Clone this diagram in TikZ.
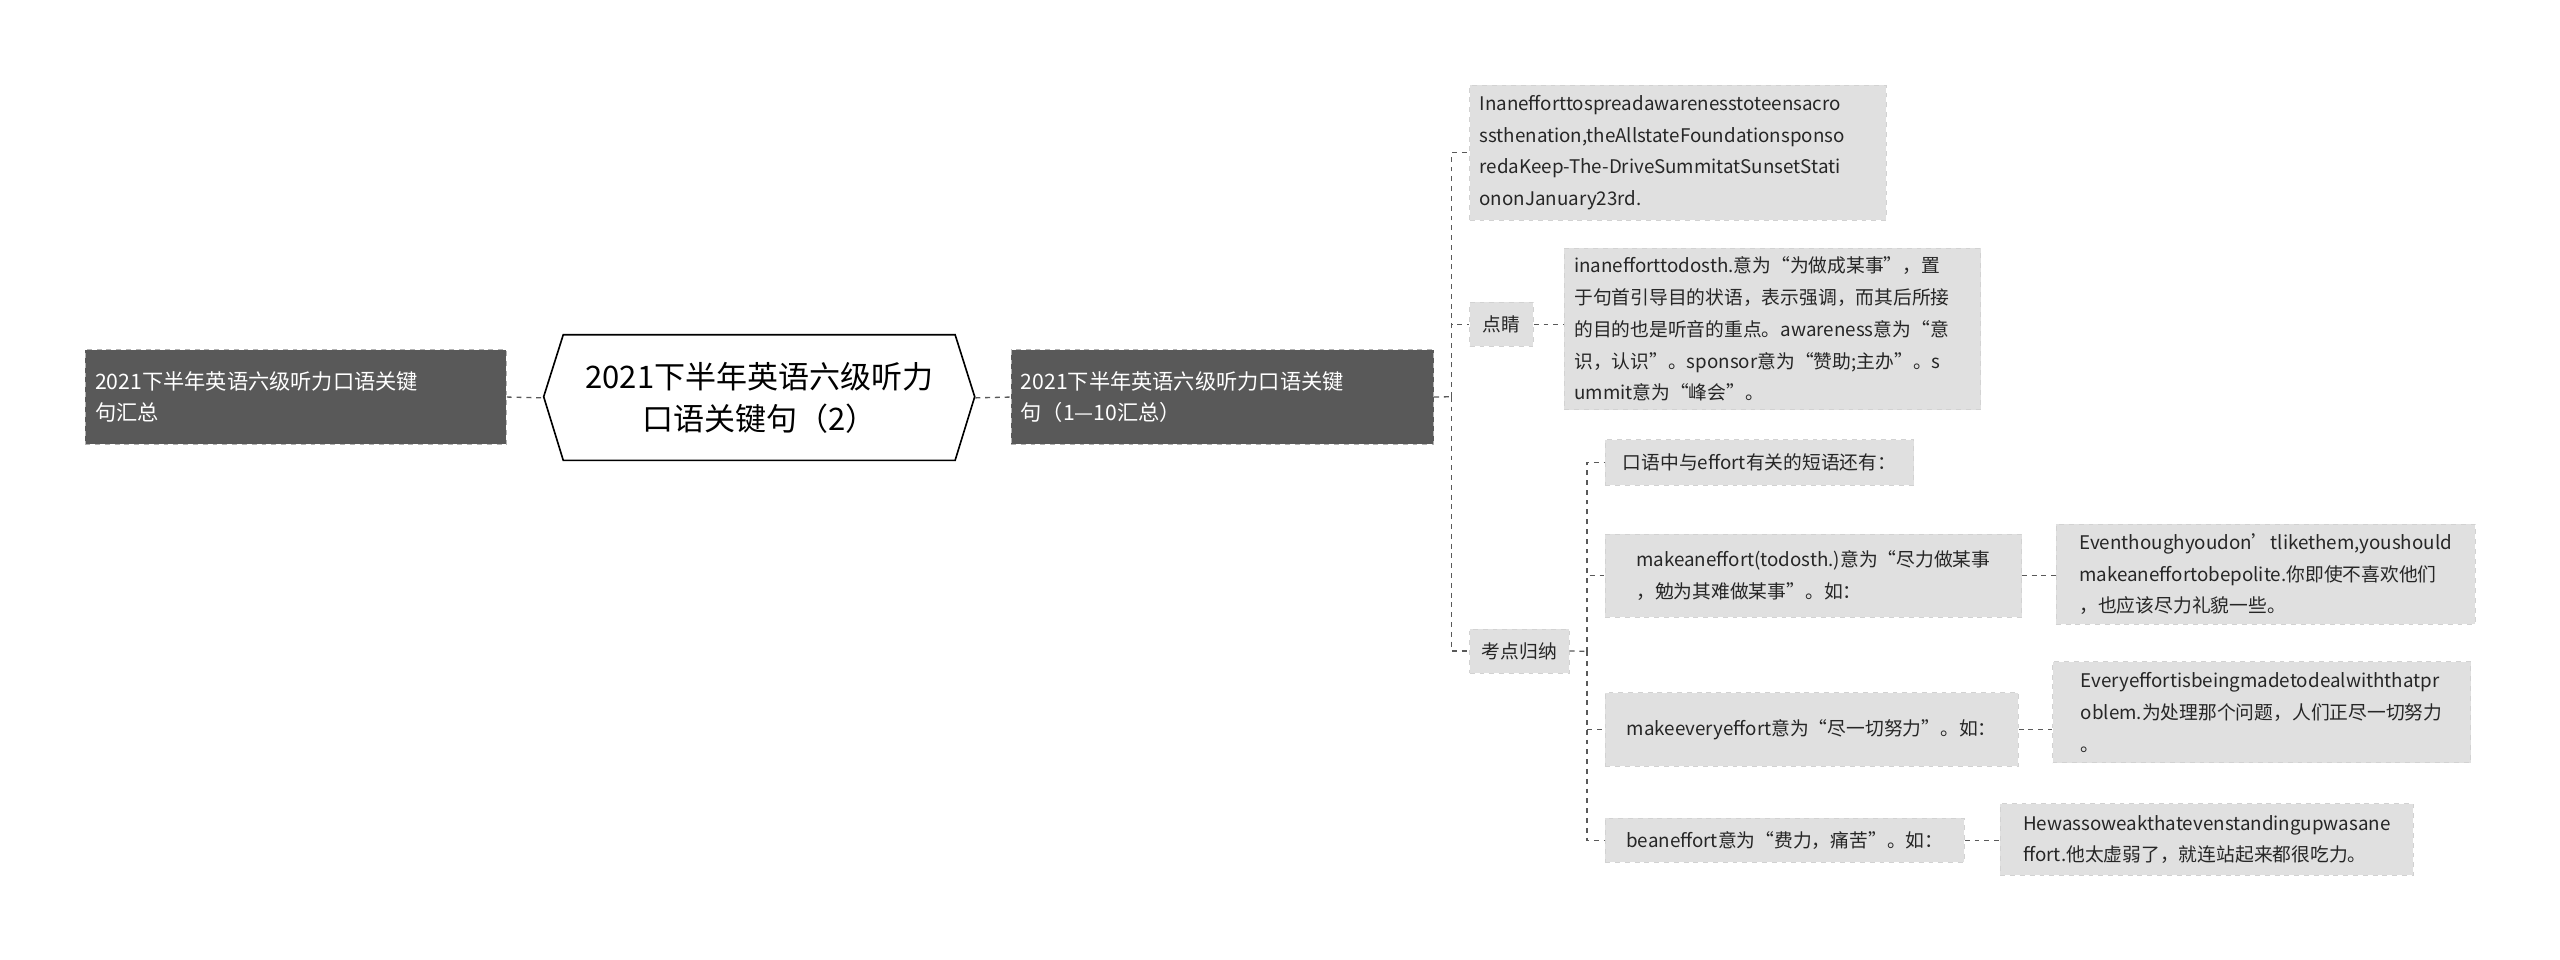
\documentclass[tikz,border=0pt]{standalone}
\usepackage{fontspec}
\setmainfont{Noto Sans CJK SC}
\begin{document}
\begin{tikzpicture}[x=1pt,y=-1pt,
  dark/.style={fill=darkbox,draw=gray!60,dashed,text=white,inner sep=6pt,font=\fontsize{13}{19}\selectfont,align=left,anchor=north west},
  light/.style={fill=lightbox,draw=gray!35,dashed,text=black!85,inner sep=6pt,font=\fontsize{11.5}{19.5}\selectfont,align=left,anchor=north west},
  con/.style={draw=black!65,dashed,line width=0.8pt}]
\definecolor{darkbox}{HTML}{595959}
\definecolor{lightbox}{HTML}{E0E0E0}
\useasboundingbox (0,0) rectangle (1568,588);
% main
\node[dark,minimum width=258,minimum height=58,text width=246] (L) at (52,214) {2021下半年英语六级听力口语关键\\句汇总};
\node[minimum width=264,minimum height=77,inner sep=0,font=\fontsize{19}{26}\selectfont,align=center,anchor=north west] (C) at (333,205) {2021下半年英语六级听力\\口语关键句（2）};
\draw[black,line width=1pt] (333,243) -- (345,205) -- (585,205) -- (597,243) -- (585,282) -- (345,282) -- cycle;
\node[dark,minimum width=259,minimum height=58,text width=247] (R) at (619,214) {2021下半年英语六级听力口语关键\\句（1—10汇总）};
\draw[con] (L.east) -- (C.west);
\draw[con] (C.east) -- (R.east -| R.west);
% level 2
\node[light,minimum width=255,minimum height=74,text width=243] (b1) at (900,52) {Inanefforttospreadawarenesstoteensacro\\ssthenation,theAllstateFoundationsponso\\redaKeep-The-DriveSummitatSunsetStati\\ononJanuary23rd.};
\node[light,minimum width=39,minimum height=27,inner sep=4pt] (dj) at (900,185) {点睛};
\node[light,minimum width=255,minimum height=89,text width=243,inner sep=5pt] (djd) at (958,152) {inanefforttodosth.意为“为做成某事”，置\\于句首引导目的状语，表示强调，而其后所接\\的目的也是听音的重点。awareness意为“意\\识，认识”。sponsor意为“赞助;主办”。s\\ummit意为“峰会”。};
\node[light,minimum width=61,minimum height=27,inner sep=4pt] (kd) at (900,385) {考点归纳};
\coordinate (t1) at (889,243);
\draw[con] (R.east) -- (t1);
\draw[con] (t1) |- (b1.west);
\draw[con] (t1) |- (dj.west);
\draw[con] (t1) |- (kd.west);
\draw[con] (dj.east) -- (djd.west |- dj.east);
% level 3
\node[light,minimum width=189,minimum height=28,inner sep=5pt] (k1) at (983,269) {口语中与effort有关的短语还有：};
\node[light,minimum width=255,minimum height=51,inner sep=5pt] (k2) at (983,327) {makeaneffort(todosth.)意为“尽力做某事\\，勉为其难做某事”。如：};
\node[light,minimum width=257,minimum height=61,inner sep=5pt] (e2) at (1259,321) {Eventhoughyoudon'tlikethem,youshould\\makeaneffortobepolite.你即使不喜欢他们\\，也应该尽力礼貌一些。};
\node[light,minimum width=253,minimum height=45,inner sep=5pt] (k3) at (983,424) {makeeveryeffort意为“尽一切努力”。如：};
\node[light,minimum width=256,minimum height=62,inner sep=5pt] (e3) at (1257,405) {Everyeffortisbeingmadetodealwiththatpr\\oblem.为处理那个问题，人们正尽一切努力\\。};
\node[light,minimum width=220,minimum height=27,inner sep=5pt] (k4) at (983,501) {beaneffort意为“费力，痛苦”。如：};
\node[light,minimum width=253,minimum height=44,inner sep=5pt] (e4) at (1225,492) {Hewassoweakthatevenstandingupwasane\\ffort.他太虚弱了，就连站起来都很吃力。};
\coordinate (t2) at (972,399);
\draw[con] (kd.east) -- (t2);
\draw[con] (t2) |- (k1.west);
\draw[con] (t2) |- (k2.west);
\draw[con] (t2) |- (k3.west);
\draw[con] (t2) |- (k4.west);
\draw[con] (k2.east) -- (e2.west |- k2.east);
\draw[con] (k3.east) -- (e3.west |- k3.east);
\draw[con] (k4.east) -- (e4.west |- k4.east);
\end{tikzpicture}
\end{document}
